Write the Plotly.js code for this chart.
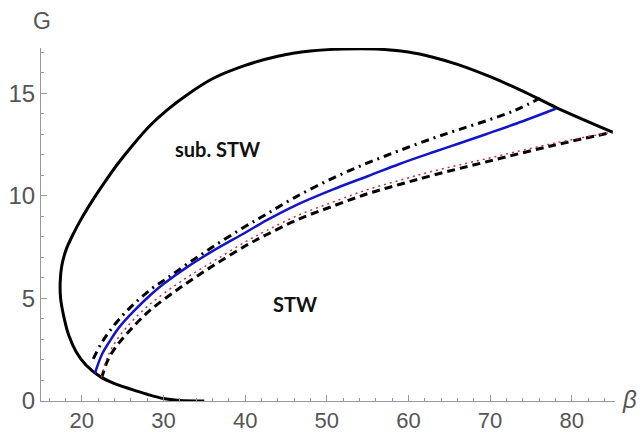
<!DOCTYPE html>
<html><head><meta charset="utf-8">
<script src="https://cdn.plot.ly/plotly-3.0.1.min.js"></script>
<style>html,body{margin:0;padding:0;background:#fff}#chart{width:644px;height:432px}</style>
</head><body><div id="chart"></div>
<script>
// Outer boundary curve
const outerBeta = [35,32,30,28,26,24,22.2,20.5,19.3,18.4,17.8,17.4,17.35,17.55,18.1,18.9,19.9,21.2,22.7,24.2,26.2,28.3,30.5,33,36,40,44,48,52,56,60,63,66,70,74,78.1,85];
const outerG    = [0,0.03,0.12,0.33,0.58,0.85,1.2,1.75,2.4,3.2,4.1,5.0,5.8,6.6,7.4,8.1,8.85,9.7,10.6,11.45,12.45,13.4,14.2,14.95,15.7,16.35,16.8,17.05,17.15,17.15,17.0,16.75,16.4,15.8,15.1,14.3,13.1];
// Blue solid curve
const blueBeta = [21.6,22.5,23.4,24.5,26.3,28.5,30,32.8,36,40,42.6,46,50.7,55,58.9,63,66,69.5,74,78.1];
const blueG    = [1.35,2.3,2.9,3.55,4.35,5.2,5.7,6.5,7.3,8.2,8.8,9.5,10.3,10.95,11.55,12.12,12.52,13.0,13.63,14.25];
// Black dash-dot curve
const dashDotBeta = [21.4,22.3,23.3,24.5,26.3,28.5,30.5,33,36,40,42.6,46,50.7,55,58.9,63,66,69.5,73,76.1];
const dashDotG    = [2.05,2.75,3.35,3.95,4.7,5.45,6.0,6.7,7.5,8.5,9.1,9.9,10.85,11.6,12.2,12.8,13.2,13.65,14.15,14.75];
// Black dashed curve
const dashedBeta = [22.4,23.2,24.3,25.9,28.3,31.6,34,36.5,40,42.6,46.5,50.8,55,58.9,63,69.5,77.7,85];
const dashedG    = [1.1,2.0,2.7,3.45,4.4,5.4,6.05,6.7,7.55,8.1,8.85,9.5,10.1,10.55,11.0,11.65,12.45,13.1];
// Red dotted curve
const dottedBeta = [22.4,23.0,24.0,25.5,28.0,31.3,34,36.5,40,42.6,46.5,50.8,55,58.9,63,69.5,77.7,85];
const dottedG    = [1.15,2.0,2.8,3.6,4.6,5.6,6.3,6.9,7.75,8.3,9.05,9.7,10.3,10.75,11.2,11.8,12.55,13.1];
// Region labels
const regionText = ['sub. STW','STW'];
const regionBeta = [36.6,46.1];
const regionG    = [12.3,4.74];
const xTicks = [20,30,40,50,60,70,80];
const yTicks = [0,5,10,15];

const traces = [
  {x: outerBeta, y: outerG, mode:'lines', line:{color:'#000', width:3, shape:'spline', smoothing:0.8}, hoverinfo:'skip'},
  {x: dashDotBeta, y: dashDotG, mode:'lines', line:{color:'#000', width:3, dash:'8px,5px,2px,5px', shape:'spline'}, hoverinfo:'skip'},
  {x: dashedBeta, y: dashedG, mode:'lines', line:{color:'#000', width:3, dash:'8px,5px', shape:'spline'}, hoverinfo:'skip'},
  {x: dottedBeta, y: dottedG, mode:'lines', line:{color:'#c83030', width:1.5, dash:'2px,4px', shape:'spline'}, hoverinfo:'skip'},
  {x: blueBeta, y: blueG, mode:'lines', line:{color:'#1414c8', width:2.5, shape:'spline'}, hoverinfo:'skip'}
];

const annotations = regionText.map((t,i)=>({x: regionBeta[i], y: regionG[i], xref:'x', yref:'y', xanchor:'center', yanchor:'middle', text:'<b>'+t+'</b>', showarrow:false, font:{family:'Lato, Noto Sans, sans-serif', size:20, color:'#111'}}));
annotations.push({x:0.0017, y:1.076, xref:'paper', yref:'paper', xanchor:'center', yanchor:'middle', text:'G', showarrow:false, font:{family:'Liberation Sans, Arial, sans-serif', size:23, color:'#555'}});
annotations.push({x:1.026, y:0.003, xref:'paper', yref:'paper', xanchor:'center', yanchor:'middle', text:'<i>β</i>', showarrow:false, font:{family:'Liberation Sans, Arial, sans-serif', size:24, color:'#555'}});

const layout = {
  width:644, height:432,
  margin:{l:41, r:29, t:48, b:31},
  paper_bgcolor:'#fff', plot_bgcolor:'#fff',
  showlegend:false,
  xaxis:{range:[15,85.3], tickvals:xTicks, ticks:'inside', ticklen:6, tickcolor:'#999', showline:true, linecolor:'#999', linewidth:1,
    showgrid:false, zeroline:false, ticklabelstandoff:0, tickfont:{family:'Liberation Sans, Arial, sans-serif', size:22, color:'#555'},
    minor:{dtick:2, ticks:'inside', ticklen:3, tickcolor:'#999', showgrid:false}},
  yaxis:{range:[0,17.2], tickvals:yTicks, ticks:'inside', ticklen:6, tickcolor:'#999', showline:true, linecolor:'#999', linewidth:1,
    showgrid:false, zeroline:false, tickfont:{family:'Liberation Sans, Arial, sans-serif', size:24, color:'#555'},
    minor:{dtick:1, ticks:'inside', ticklen:3, tickcolor:'#999', showgrid:false}},
  annotations: annotations
};
Plotly.newPlot('chart', traces, layout, {staticPlot:true, displayModeBar:false});
</script></body></html>
